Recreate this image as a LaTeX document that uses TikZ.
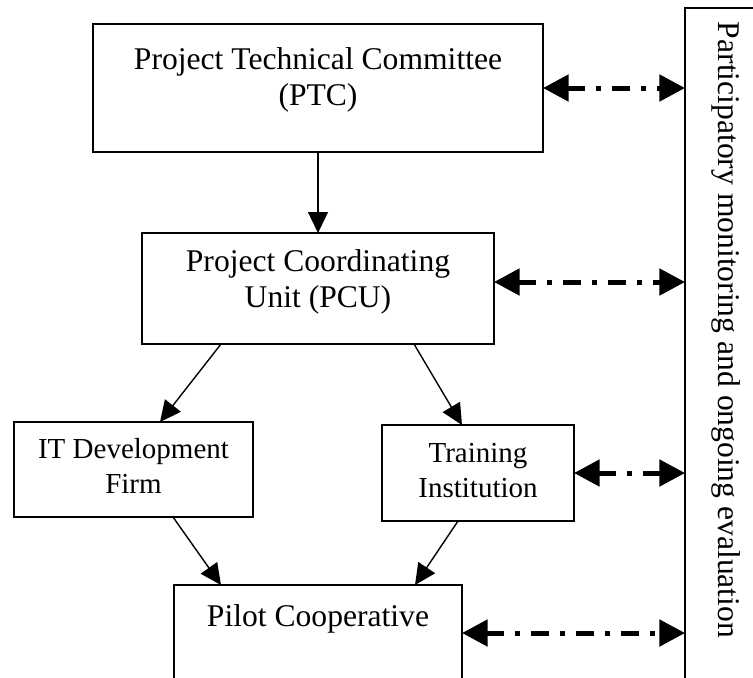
\documentclass[tikz,border=0pt]{standalone}
\usepackage{fontspec}
\setmainfont{Liberation Serif}
\usetikzlibrary{arrows.meta}

\begin{document}
\begin{tikzpicture}[x=0.5pt, y=-0.5pt,
  unitbox/.style={draw, line width=0.7pt, inner sep=0pt, outer sep=0pt},
  bigtext/.style={align=center, anchor=base, font=\fontsize{15.8}{17.75}\selectfont},
  smalltext/.style={align=center, anchor=base, font=\fontsize{14.5}{17.5}\selectfont},
  flow/.style={-{Triangle[length=10.5pt, width=10pt]}, line width=0.7pt},
  link/.style={{Triangle[length=12.8pt, width=13pt]}-{Triangle[length=12.8pt, width=13pt]},
    line width=2.5pt, dash pattern=on 9pt off 5.5pt on 2.5pt off 5.5pt}]
  \useasboundingbox (0,0) rectangle (753,677);
  \clip (0,0) rectangle (753,677);

  % Boxes
  \node[unitbox, minimum width=225pt, minimum height=64pt] (ptc) at (318,88) {};
  \node[unitbox, minimum width=176pt, minimum height=55.5pt] (pcu) at (318,288.5) {};
  \node[unitbox, minimum width=119.5pt, minimum height=47.5pt] (it) at (133.5,469.5) {};
  \node[unitbox, minimum width=96pt, minimum height=48pt] (trn) at (478,473) {};
  \node[unitbox, minimum width=144pt, minimum height=48pt] (pilot) at (318,633) {};
  \node[unitbox, minimum width=50pt, minimum height=356pt] (pme) at (735,364) {};

  % Labels (base = last line)
  \node[bigtext] (ptctext) at (318,105) {Project Technical Committee\\(PTC)};
  \node[bigtext] (pcutext) at (318,307) {Project Coordinating\\Unit (PCU)};
  \node[smalltext] (ittext) at (133.5,493) {IT Development\\Firm};
  \node[smalltext] (trntext) at (478,497) {Training\\Institution};
  \node[bigtext] (pilottext) at (318,626) {Pilot Cooperative};
  \node[bigtext, rotate=-90] (pmetext) at (718,330) {Participatory monitoring and ongoing evaluation};

  % Reporting lines
  \draw[flow] (ptc) -- (pcu);
  \draw[flow] ([xshift=39.5pt]pcu.south west) -- ([xshift=73pt]it.north west);
  \draw[flow] ([xshift=136pt]pcu.south west) -- ([xshift=40pt]trn.north west);
  \draw[flow] ([xshift=79.5pt]it.south west) -- ([xshift=23.5pt]pilot.north west);
  \draw[flow] ([xshift=38pt]trn.south west) -- ([xshift=120.5pt]pilot.north west);

  % Monitoring links
  \coordinate (pcuside) at ([yshift=3.25pt]pcu.east);
  \draw[link] (ptc.east) -- (ptc.east -| pme.west);
  \draw[link] (pcuside) -- (pcuside -| pme.west);
  \draw[link] (trn.east) -- (trn.east -| pme.west);
  \draw[link] (pilot.east) -- (pilot.east -| pme.west);
\end{tikzpicture}
\end{document}
